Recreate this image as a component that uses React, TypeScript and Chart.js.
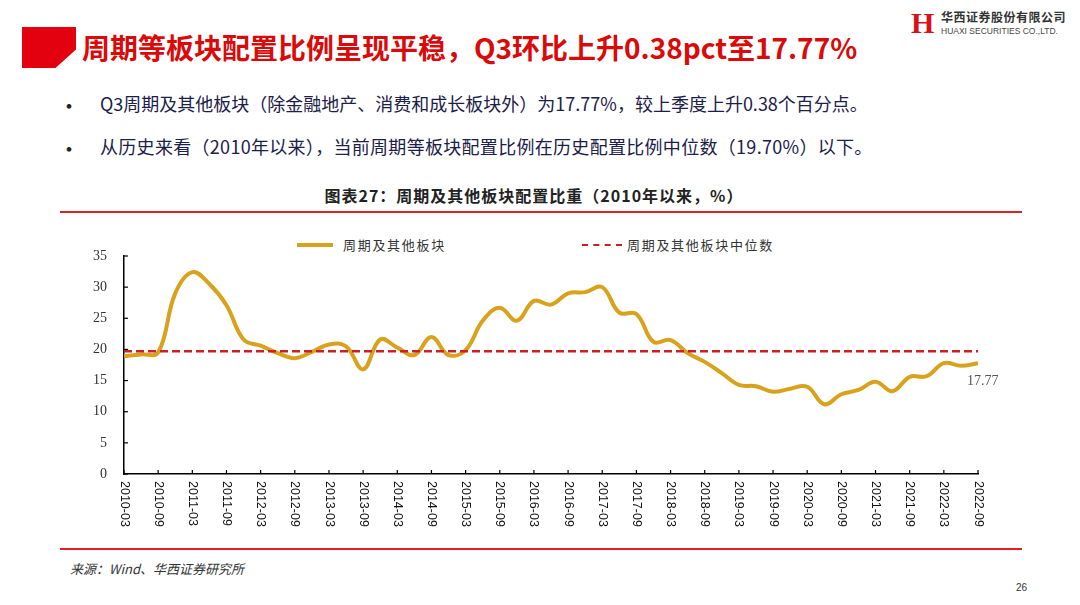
import { useEffect, useRef } from "react"
import { Chart, registerables, type Plugin } from "chart.js"

Chart.register(...registerables)

// quarterly labels, 2010Q1 .. 2022Q3
const quarters = [
  "2010-03", "2010-06", "2010-09", "2010-12",
  "2011-03", "2011-06", "2011-09", "2011-12",
  "2012-03", "2012-06", "2012-09", "2012-12",
  "2013-03", "2013-06", "2013-09", "2013-12",
  "2014-03", "2014-06", "2014-09", "2014-12",
  "2015-03", "2015-06", "2015-09", "2015-12",
  "2016-03", "2016-06", "2016-09", "2016-12",
  "2017-03", "2017-06", "2017-09", "2017-12",
  "2018-03", "2018-06", "2018-09", "2018-12",
  "2019-03", "2019-06", "2019-09", "2019-12",
  "2020-03", "2020-06", "2020-09", "2020-12",
  "2021-03", "2021-06", "2021-09", "2021-12",
  "2022-03", "2022-06", "2022-09",
]

// 周期及其他板块配置比重 (%)
const cycleShare = [
  18.9, 19.2, 19.5, 29.0,
  32.4, 30.5, 27.1, 21.6,
  20.6, 19.4, 18.6, 19.6,
  20.8, 20.5, 16.8, 21.6,
  20.3, 19.1, 22.0, 19.1,
  19.9, 24.6, 26.7, 24.6,
  27.8, 27.2, 29.0, 29.2,
  30.0, 25.9, 25.7, 21.2,
  21.5, 19.4, 18.0, 16.2,
  14.3, 14.1, 13.2, 13.7,
  14.0, 11.2, 12.8, 13.5,
  14.8, 13.3, 15.6, 15.7,
  17.8, 17.39, 17.77,
]

const MEDIAN = 19.7
const medianLine = quarters.map(() => MEDIAN)

const GOLD = "#D9A21C"
const RED_DASH = "#CC1E24"

// inward tick marks, rotated x labels, end value label
const axisDecor: Plugin<"line"> = {
  id: "axisDecor",
  afterDraw(chart) {
    const { ctx, chartArea, scales } = chart
    const xs = scales.x
    const ys = scales.y
    ctx.save()
    ctx.strokeStyle = "#000"
    ctx.lineWidth = 1.2
    ys.ticks.forEach((t) => {
      const py = ys.getPixelForValue(t.value)
      ctx.beginPath()
      ctx.moveTo(chartArea.left, py)
      ctx.lineTo(chartArea.left + 4, py)
      ctx.stroke()
    })
    ctx.fillStyle = "#111"
    ctx.font = "12.5px 'Liberation Sans'"
    ctx.textAlign = "left"
    ctx.textBaseline = "middle"
    quarters.forEach((q, i) => {
      if (i % 2) return
      const px = xs.getPixelForValue(i)
      ctx.beginPath()
      ctx.moveTo(px, chartArea.bottom)
      ctx.lineTo(px, chartArea.bottom - 4)
      ctx.stroke()
      ctx.save()
      ctx.translate(px, chartArea.bottom + 7)
      ctx.rotate(Math.PI / 2)
      ctx.fillText(q, 0, 0)
      ctx.restore()
    })
    const meta = chart.getDatasetMeta(0)
    const last = meta.data[meta.data.length - 1]
    ctx.font = "14px 'Liberation Serif'"
    ctx.fillStyle = "#555"
    ctx.fillText(cycleShare[cycleShare.length - 1].toFixed(2), last.x - 11, last.y + 18)
    ctx.restore()
  },
}

function CycleChart() {
  const canvasRef = useRef<HTMLCanvasElement>(null)

  useEffect(() => {
    if (!canvasRef.current) return
    const chart = new Chart(canvasRef.current, {
      type: "line",
      data: {
        labels: quarters,
        datasets: [
          {
            label: "周期及其他板块",
            data: cycleShare,
            borderColor: GOLD,
            borderWidth: 4,
            pointRadius: 0,
            tension: 0.4,
            order: 2,
          },
          {
            label: "周期及其他板块中位数",
            data: medianLine,
            borderColor: RED_DASH,
            borderWidth: 2.5,
            borderDash: [8, 4],
            pointRadius: 0,
            tension: 0,
            order: 1,
          },
        ],
      },
      options: {
        animation: false,
        responsive: true,
        maintainAspectRatio: false,
        layout: { padding: { top: 31, right: 44, left: 0, bottom: 0 } },
        plugins: {
          legend: { display: false },
          tooltip: { enabled: false },
        },
        scales: {
          x: {
            type: "category",
            offset: false,
            grid: { display: false, drawTicks: false },
            border: { display: true, color: "#000", width: 1.5 },
            ticks: { display: false, autoSkip: false },
            afterFit: (s) => {
              s.height = 71
            },
          },
          y: {
            min: 0,
            max: 35,
            grid: { display: false, drawTicks: false },
            border: { display: true, color: "#000", width: 1.5 },
            ticks: {
              stepSize: 5,
              padding: 17,
              color: "#333",
              font: { family: "'Liberation Serif'", size: 14 },
            },
            afterFit: (s) => {
              s.width = 64
            },
          },
        },
      },
      plugins: [axisDecor],
    })
    return () => chart.destroy()
  }, [])

  return <canvas ref={canvasRef} />
}

export default function App() {
  const abs = (left: number, top: number, extra: React.CSSProperties = {}): React.CSSProperties => ({
    position: "absolute",
    left,
    top,
    whiteSpace: "nowrap",
    ...extra,
  })
  const bulletText: React.CSSProperties = { fontSize: 18, color: "#1c2048", lineHeight: "20px" }
  const bulletDot: React.CSSProperties = { fontSize: 22, color: "#222", lineHeight: "20px" }

  return (
    <div
      style={{
        position: "fixed",
        left: 0,
        top: 0,
        width: 1080,
        height: 605,
        background: "#fff",
        overflow: "hidden",
        fontFamily: "'Noto Sans CJK SC', 'Noto Sans', sans-serif",
      }}
    >
      {/* header */}
      <div
        style={abs(22, 27, {
          width: 54,
          height: 41,
          background: "#E3000F",
          clipPath: "polygon(0 0, 100% 0, 100% 55%, 62% 100%, 0 100%)",
        })}
      />
      <div style={abs(82, 28, { fontSize: 28, fontWeight: 700, color: "#DA0A0A", lineHeight: "38px" })}>
        周期等板块配置比例呈现平稳，Q3环比上升0.38pct至17.77%
      </div>
      <div
        style={abs(911, 8, {
          fontFamily: "'Liberation Serif'",
          fontWeight: 700,
          fontSize: 30,
          color: "#D8101A",
          lineHeight: "30px",
        })}
      >
        H
      </div>
      <div style={abs(941, 10, { fontSize: 12, fontWeight: 700, color: "#333", lineHeight: "14px", letterSpacing: 0.5 })}>
        华西证券股份有限公司
      </div>
      <div style={abs(941, 26, { fontSize: 8.5, color: "#444", lineHeight: "10px", fontFamily: "'Liberation Sans'" })}>
        HUAXI SECURITIES CO.,LTD.
      </div>

      {/* bullets */}
      <div style={abs(58, 94, bulletDot)}>•</div>
      <div style={abs(100, 93, bulletText)}>
        Q3周期及其他板块（除金融地产、消费和成长板块外）为17.77%，较上季度上升0.38个百分点。
      </div>
      <div style={abs(58, 137, bulletDot)}>•</div>
      <div style={abs(100, 136, { ...bulletText, letterSpacing: 0.3 })}>
        从历史来看（2010年以来），当前周期等板块配置比例在历史配置比例中位数（19.70%）以下。
      </div>

      {/* chart title */}
      <div
        style={abs(0, 184, {
          width: 1068,
          textAlign: "center",
          fontSize: 16,
          fontWeight: 700,
          color: "#222",
          letterSpacing: 1,
          lineHeight: "22px",
        })}
      >
        图表27：周期及其他板块配置比重（2010年以来，%）
      </div>
      <div style={abs(60, 211, { width: 962, height: 2, background: "#E02020" })} />

      {/* legend */}
      <div style={abs(297, 243, { width: 36, height: 4, background: GOLD })} />
      <div style={abs(343, 236, { fontSize: 13, color: "#333", letterSpacing: 1.7, lineHeight: "18px" })}>
        周期及其他板块
      </div>
      <div
        style={abs(582, 244, {
          width: 40,
          height: 0,
          borderTop: `2.5px dashed ${RED_DASH}`,
        })}
      />
      <div style={abs(627, 236, { fontSize: 13, color: "#333", letterSpacing: 1.7, lineHeight: "18px" })}>
        周期及其他板块中位数
      </div>

      {/* chart */}
      <div style={abs(60, 225, { width: 962, height: 320 })}>
        <CycleChart />
      </div>

      <div style={abs(60, 548, { width: 962, height: 2, background: "#E02020" })} />
      <div style={abs(70, 560, { fontSize: 13, fontStyle: "italic", color: "#333", lineHeight: "18px" })}>
        来源：Wind、华西证券研究所
      </div>
      <div style={abs(1016, 582, { fontSize: 10, color: "#333", fontFamily: "'Liberation Sans'" })}>26</div>
    </div>
  )
}
